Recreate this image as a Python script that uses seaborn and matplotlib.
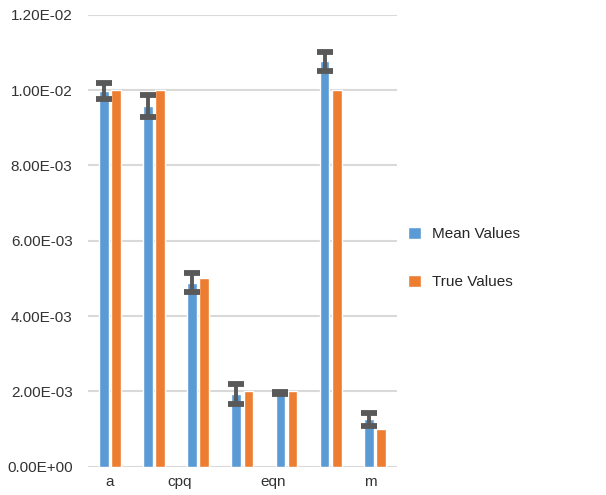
import numpy as np
import pandas as pd
import matplotlib
matplotlib.use('Agg')
import matplotlib.pyplot as plt
import seaborn as sns

# data
groups = ['g1', 'g2', 'g3', 'g4', 'g5', 'g6', 'g7']
mean_values = [0.00997, 0.00957, 0.00489, 0.00193, 0.00196, 0.01077, 0.00126]
mean_errors = [0.00021, 0.00029, 0.00025, 0.00027, 0.00003, 0.00025, 0.00017]
true_values = [0.010, 0.010, 0.005, 0.002, 0.002, 0.010, 0.001]

tick_labels = ['a', 'cpq', 'eqn', 'm']
tick_positions = [0, 1.58, 3.7, 5.9]
y_ticks = [0, 0.002, 0.004, 0.006, 0.008, 0.010, 0.012]

BLUE = '#5B9BD5'
ORANGE = '#ED7D31'
ERR = '#595959'


def main():
    sns.set_style('white')
    plt.rcParams['font.family'] = ['Liberation Sans', 'DejaVu Sans']

    df = pd.DataFrame({
        'group': groups * 2,
        'value': mean_values + true_values,
        'series': ['Mean Values'] * len(groups) + ['True Values'] * len(groups),
    })

    fig = plt.figure(figsize=(6.06, 4.95), dpi=100)
    ax = fig.add_axes([0.145, 0.057, 0.51, 0.913])

    sns.barplot(data=df, x='group', y='value', hue='series',
                palette=[BLUE, ORANGE], saturation=1, width=0.55, gap=0.2,
                errorbar=None, ax=ax, zorder=2)

    # error bars on the mean series
    for bar, err in zip(ax.containers[0], mean_errors):
        cx = bar.get_x() + bar.get_width() / 2
        ax.errorbar(cx, bar.get_height(), yerr=err, fmt='none',
                    ecolor=ERR, elinewidth=2.8, capsize=5.5, capthick=4.2,
                    zorder=3)

    ax.set_ylim(0, 0.012)
    ax.set_xlim(-0.5, len(groups) - 0.5)
    ax.set_yticks(y_ticks)
    ax.set_yticklabels([f'{v:.2E}' for v in y_ticks], fontsize=11, color='#333333')
    ax.set_xticks(tick_positions)
    ax.set_xticklabels(tick_labels, fontsize=11, color='#333333')
    ax.tick_params(axis='both', length=0, pad=6)
    ax.tick_params(axis='y', pad=11)
    ax.set_xlabel('')
    ax.set_ylabel('')
    ax.yaxis.grid(True, color='#D9D9D9', linewidth=1.5, zorder=0)
    ax.set_axisbelow(True)
    for s in ax.spines.values():
        s.set_visible(False)

    ax.legend(loc='center left', bbox_to_anchor=(1.0, 0.462), frameon=False,
              fontsize=11, handlelength=0.9, handleheight=0.9,
              labelspacing=2.2, handletextpad=0.7, borderaxespad=0.3)

    fig.savefig('out.png', dpi=100)
    plt.close(fig)


if __name__ == '__main__':
    main()
